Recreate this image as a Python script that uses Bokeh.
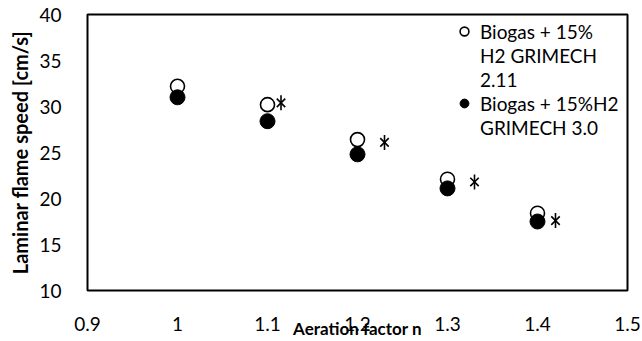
import math
from bokeh.plotting import figure
from bokeh.models import Legend, LegendItem, FixedTicker, Range1d
from bokeh.embed import file_html
from bokeh.resources import INLINE

# ---- data ----
aeration_n = [1.0, 1.1, 1.2, 1.3, 1.4]
speed_grimech211 = [32.2, 30.2, 26.4, 22.1, 18.4]
speed_grimech30 = [31.0, 28.4, 24.8, 21.1, 17.5]
exp_n = [1.115, 1.23, 1.33, 1.42]
exp_speed = [30.4, 26.1, 21.8, 17.6]
x_ticks = [0.9, 1.0, 1.1, 1.2, 1.3, 1.4, 1.5]
x_tick_labels = ["0.9", "1", "1.1", "1.2", "1.3", "1.4", "1.5"]
y_ticks = [10, 15, 20, 25, 30, 35, 40]
label_211_lines = ["Biogas + 15%", "H2 GRIMECH", "2.11"]
label_30_lines = ["Biogas + 15%H2", "GRIMECH 3.0"]

FONT = "Lato"

p = figure(width=642, height=341, output_backend="svg", toolbar_location=None,
           x_range=Range1d(0.9, 1.5), y_range=Range1d(10, 40),
           min_border_left=87, min_border_right=15, min_border_top=14,
           min_border_bottom=51)
p.background_fill_color = "white"
p.border_fill_color = "white"
p.outline_line_color = "black"
p.outline_line_width = 2
p.xgrid.visible = False
p.ygrid.visible = False

for ax in (p.xaxis[0], p.yaxis[0]):
    ax.axis_line_color = None
    ax.major_tick_line_color = None
    ax.minor_tick_line_color = None
    ax.major_label_text_font = FONT
    ax.major_label_text_font_size = "19px"
    ax.major_label_text_color = "black"

p.xaxis.ticker = FixedTicker(ticks=x_ticks)
p.xaxis.major_label_overrides = {t: l for t, l in zip(x_ticks, x_tick_labels)}
p.xaxis.major_label_standoff = 20
p.yaxis.ticker = FixedTicker(ticks=y_ticks)
p.yaxis.major_label_standoff = 20

p.yaxis.axis_label = "Laminar flame speed [cm/s]"
p.yaxis.axis_label_text_font = FONT
p.yaxis.axis_label_text_font_style = "bold"
p.yaxis.axis_label_text_font_size = "20px"
p.yaxis.axis_label_text_color = "black"
p.yaxis.axis_label_standoff = 4

p.xaxis.axis_label = "Aeration factor n"
p.xaxis.axis_label_text_font = FONT
p.xaxis.axis_label_text_font_style = "bold"
p.xaxis.axis_label_text_font_size = "17px"
p.xaxis.axis_label_text_color = "black"
p.xaxis.axis_label_standoff = -16

r_open = p.scatter(aeration_n, speed_grimech211, marker="circle", size=14,
                   fill_color="white", line_color="black", line_width=1.6)
r_fill = p.scatter(aeration_n, speed_grimech30, marker="circle", size=15,
                   fill_color="black", line_color="black", line_width=1)
p.scatter(exp_n, exp_speed, marker="x", size=12, line_color="black", line_width=1.6)
p.scatter(exp_n, exp_speed, marker="dash", size=15, angle=math.pi / 2,
          line_color="black", line_width=1.6)

# invisible renderer used for legend continuation lines
r_blank = p.scatter([], [], marker="circle", size=1, fill_alpha=0, line_alpha=0)

items = []
for i, t in enumerate(label_211_lines):
    items.append(LegendItem(label=t, renderers=[r_open if i == 0 else r_blank]))
for i, t in enumerate(label_30_lines):
    items.append(LegendItem(label=t, renderers=[r_fill if i == 0 else r_blank]))

legend = Legend(items=items, location=(366, 151), border_line_color=None,
                background_fill_alpha=0, padding=0, margin=0,
                glyph_width=22, glyph_height=24, label_height=24,
                label_width=120, label_standoff=5,
                spacing=0, label_text_font=FONT, label_text_font_size="19px",
                label_text_color="black")
p.add_layout(legend)

open("out.html", "w").write(file_html(p, INLINE))
